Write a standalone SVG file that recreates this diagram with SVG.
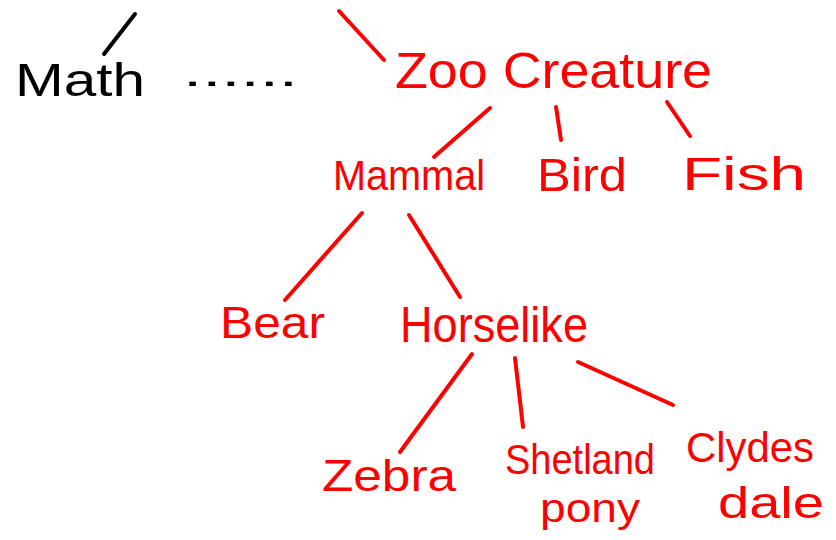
<svg xmlns="http://www.w3.org/2000/svg" width="836" height="540" viewBox="0 0 836 540">
<style>
.lbl{font-family:"Liberation Sans",Arial,sans-serif;fill:#ff0000;}
.blk{font-family:"Liberation Sans",Arial,sans-serif;fill:#000000;}
.ln{stroke:#ff0000;stroke-width:4;stroke-linecap:round;fill:none;}
.lb{stroke:#000000;stroke-width:4;stroke-linecap:round;fill:none;}
</style>
<rect width="836" height="540" fill="#ffffff"/>
<g id="connectors">
<line class="lb" x1="104" y1="54" x2="135" y2="14"/>
<line class="ln" x1="339" y1="11" x2="384" y2="60"/>
<line class="ln" x1="490" y1="108" x2="434" y2="157"/>
<line class="ln" x1="556" y1="107" x2="561" y2="140"/>
<line class="ln" x1="667" y1="102" x2="690" y2="136"/>
<line class="ln" x1="362" y1="213" x2="285" y2="300"/>
<line class="ln" x1="409" y1="215" x2="460" y2="297"/>
<line class="ln" x1="472" y1="354" x2="400" y2="452"/>
<line class="ln" x1="515" y1="358" x2="523" y2="427"/>
<line class="ln" x1="578" y1="362" x2="673" y2="405"/>
</g>
<g id="math"><text class="blk" x="15" y="96" font-size="46" textLength="130" lengthAdjust="spacingAndGlyphs">Math</text></g>
<g id="dots"><text class="blk" x="183" y="86" font-size="40" textLength="115" lengthAdjust="spacingAndGlyphs">......</text></g>
<g id="zoo"><text class="lbl" x="395" y="88" font-size="50" textLength="317" lengthAdjust="spacingAndGlyphs">Zoo Creature</text></g>
<g id="mammal"><text class="lbl" x="333" y="190" font-size="42" textLength="152" lengthAdjust="spacingAndGlyphs">Mammal</text></g>
<g id="bird"><text class="lbl" x="537" y="191" font-size="46" textLength="90" lengthAdjust="spacingAndGlyphs">Bird</text></g>
<g id="fish"><text class="lbl" x="682" y="190" font-size="46" textLength="124" lengthAdjust="spacingAndGlyphs">Fish</text></g>
<g id="bear"><text class="lbl" x="220" y="338" font-size="44" textLength="105" lengthAdjust="spacingAndGlyphs">Bear</text></g>
<g id="horselike"><text class="lbl" x="400" y="342" font-size="50" textLength="188" lengthAdjust="spacingAndGlyphs">Horselike</text></g>
<g id="zebra"><text class="lbl" x="322" y="491" font-size="44" textLength="134" lengthAdjust="spacingAndGlyphs">Zebra</text></g>
<g id="shetland"><text class="lbl" x="505" y="474" font-size="42" textLength="150" lengthAdjust="spacingAndGlyphs">Shetland</text><text class="lbl" x="540" y="522" font-size="40" textLength="100" lengthAdjust="spacingAndGlyphs">pony</text></g>
<g id="clydesdale"><text class="lbl" x="686" y="462" font-size="42" textLength="128" lengthAdjust="spacingAndGlyphs">Clydes</text><text class="lbl" x="718" y="518" font-size="44" textLength="106" lengthAdjust="spacingAndGlyphs">dale</text></g>
</svg>
